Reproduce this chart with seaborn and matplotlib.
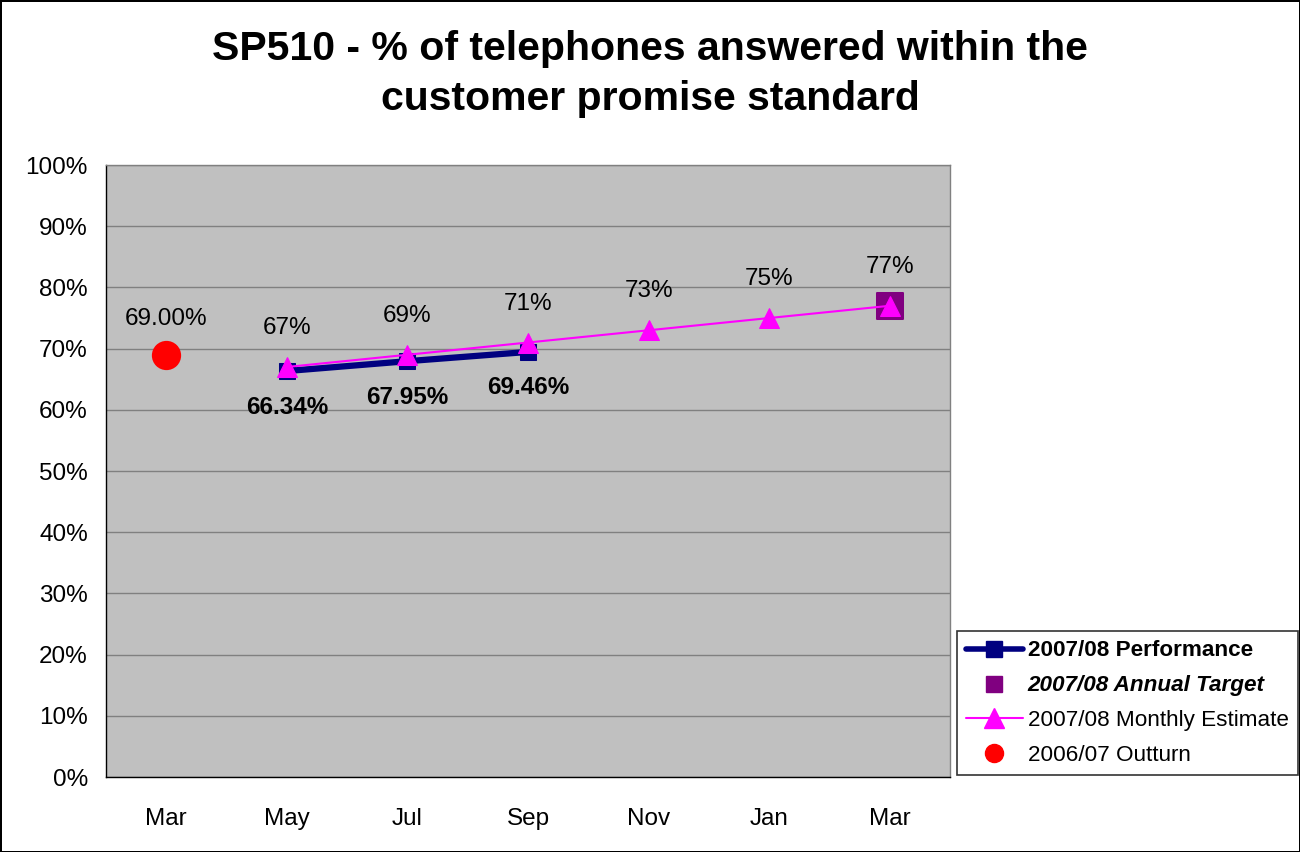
import numpy as np
import pandas as pd
import matplotlib
matplotlib.use("Agg")
import matplotlib.pyplot as plt
import seaborn as sns
from matplotlib.lines import Line2D

# chart data
months = ['Mar', 'May', 'Jul', 'Sep', 'Nov', 'Jan', 'Mar']
performance = [np.nan, 66.34, 67.95, 69.46, np.nan, np.nan, np.nan]
target = [np.nan, np.nan, np.nan, np.nan, np.nan, np.nan, 77]
estimate = [np.nan, 67, 69, 71, 73, 75, 77]
outturn = [69.00, np.nan, np.nan, np.nan, np.nan, np.nan, np.nan]

perf_labels = ['', '66.34%', '67.95%', '69.46%', '', '', '']
est_labels = ['', '67%', '69%', '71%', '73%', '75%', '77%']
out_labels = ['69.00%', '', '', '', '', '', '']

df = pd.DataFrame({'pos': range(len(months)), 'month': months,
                   'performance': performance, 'target': target,
                   'estimate': estimate, 'outturn': outturn})

sns.set_style("white")
plt.rcParams['font.family'] = ['Liberation Sans', 'DejaVu Sans']
plt.rcParams['text.color'] = 'black'
plt.rcParams['xtick.color'] = 'black'
plt.rcParams['ytick.color'] = 'black'

fig = plt.figure(figsize=(13, 8.52), dpi=100)
fig.patch.set_edgecolor('black')
fig.patch.set_linewidth(2)
ax = fig.add_axes([0.0815, 0.088, 0.6493, 0.7183])
ax.set_facecolor('#C0C0C0')

# lines
sns.lineplot(data=df, x='pos', y='performance', ax=ax, color='#000080', lw=4.5,
             marker='s', markersize=12, markeredgecolor='#000080', zorder=3)
sns.scatterplot(data=df, x='pos', y='target', ax=ax, color='#800080', marker='s',
                s=330, edgecolor='#800080', zorder=4)
sns.lineplot(data=df, x='pos', y='estimate', ax=ax, color='#FF00FF', lw=1.5,
             marker='^', markersize=15, markeredgecolor='#FF00FF', zorder=5)
sns.scatterplot(data=df, x='pos', y='outturn', ax=ax, color='#FF0000',
                s=380, edgecolor='#FF0000', zorder=5)

# data labels
fs = 17.5
for i, row in df.iterrows():
    if perf_labels[i]:
        ax.annotate(perf_labels[i], (row.pos, row.performance), xytext=(0, -36),
                    textcoords='offset pixels', ha='center', va='center',
                    fontsize=fs, fontweight='bold')
    if est_labels[i]:
        ax.annotate(est_labels[i], (row.pos, row.estimate), xytext=(0, 39),
                    textcoords='offset pixels', ha='center', va='center', fontsize=fs)
    if out_labels[i]:
        ax.annotate(out_labels[i], (row.pos, row.outturn), xytext=(0, 36),
                    textcoords='offset pixels', ha='center', va='center', fontsize=fs)

ax.set_xlim(-0.5, len(months) - 0.5)
ax.set_ylim(0, 100)
ax.set_yticks(range(0, 101, 10))
ax.set_yticklabels([f'{v}%' for v in range(0, 101, 10)], fontsize=fs)
ax.set_xticks(range(len(months)))
ax.set_xticklabels(months, fontsize=fs)
ax.set_xticks(np.arange(-0.5, len(months), 1), minor=True)
ax.tick_params(axis='x', which='major', length=0, pad=22)
ax.tick_params(axis='x', which='minor', length=8, width=1, color='black', direction='out')
ax.tick_params(axis='y', length=8, width=1, color='black', direction='out', pad=5)
ax.set_xlabel('')
ax.set_ylabel('')
ax.yaxis.grid(True, color='#808080', lw=1)
ax.set_axisbelow(True)
for s in ['top', 'right']:
    ax.spines[s].set_color('#808080')
for s in ['left', 'bottom']:
    ax.spines[s].set_color('black')
for s in ax.spines.values():
    s.set_linewidth(1)

fig.suptitle('SP510 - % of telephones answered within the\ncustomer promise standard',
             fontsize=29.5, fontweight='bold', y=0.965, x=0.5, linespacing=1.4)

handles = [
    Line2D([], [], color='#000080', lw=4, marker='s', markersize=12),
    Line2D([], [], color='#800080', lw=0, marker='s', markersize=12),
    Line2D([], [], color='#FF00FF', lw=1.5, marker='^', markersize=14),
    Line2D([], [], color='#FF0000', lw=0, marker='o', markersize=13),
]
names = ['2007/08 Performance', '2007/08 Annual Target',
         '2007/08 Monthly Estimate', '2006/07 Outturn']
leg = fig.legend(handles, names, loc='lower left', bbox_to_anchor=(0.736, 0.09),
                 fontsize=16.2, frameon=True, fancybox=False, edgecolor='black',
                 handlelength=2.55, borderpad=0.4, labelspacing=0.62, handletextpad=0.2,
                 borderaxespad=0)
leg.get_frame().set_linewidth(1.2)
texts = leg.get_texts()
texts[0].set_fontweight('bold')
texts[1].set_fontweight('bold')
texts[1].set_fontstyle('italic')

fig.savefig('out.png', dpi=100, edgecolor=fig.get_edgecolor())
